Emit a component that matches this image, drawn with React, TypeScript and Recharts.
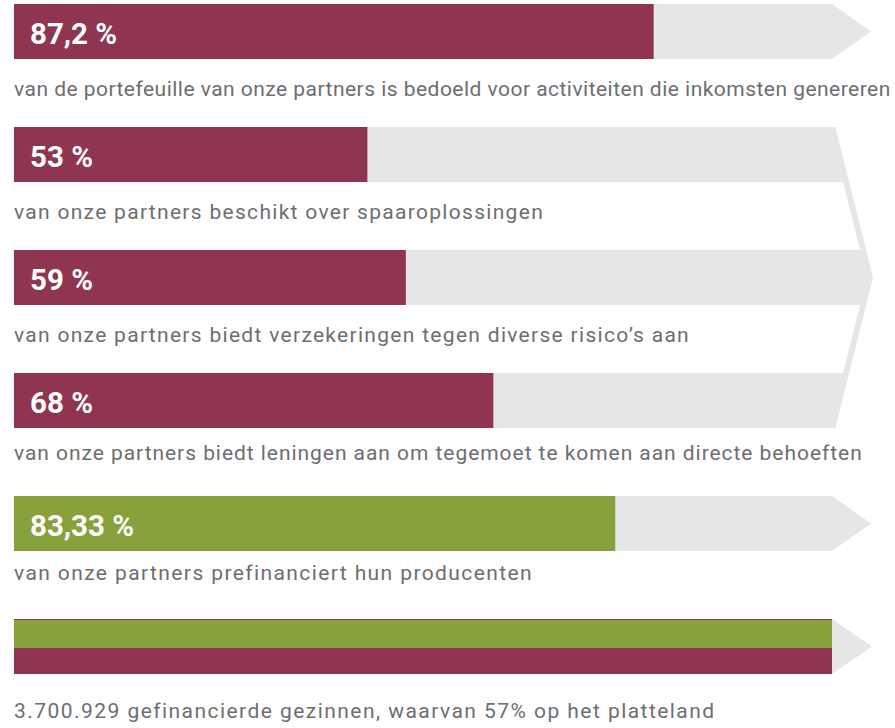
import React from 'react';
import { BarChart, Bar, XAxis, YAxis, LabelList } from 'recharts';

// rows, top to bottom
const categories = ['portefeuille', 'spaaroplossingen', 'verzekeringen', 'leningen', 'prefinanciering', 'gezinnen'];
const valueLabels = ['87,2 %', '53 %', '59 %', '68 %', '83,33 %', ''];
const captions = [
  'van de portefeuille van onze partners is bedoeld voor activiteiten die inkomsten genereren',
  'van onze partners beschikt over spaaroplossingen',
  'van onze partners biedt verzekeringen tegen diverse risico’s aan',
  'van onze partners biedt leningen aan om tegemoet te komen aan directe behoeften',
  'van onze partners prefinanciert hun producenten',
  '3.700.929 gefinancierde gezinnen, waarvan 57% op het platteland',
];
// bar lengths as drawn, in % of the grey track
const barLengths = [78.2, 43.2, 47.9, 58.6, 73.5, 100];
// upper (green) part of the last bar, in % of its height, as drawn
const ruralPart = 52;

const data = categories.map((name, i) => ({
  name,
  value: barLengths[i],
  label: valueLabels[i],
  caption: captions[i],
}));

const W = 895;
const H = 728;
const MARGIN = { top: -30, right: 63, bottom: 20, left: 14 };
const STEP = (H - MARGIN.top - MARGIN.bottom) / categories.length;
const BAR = 55;

const MAROON = '#90354f';
const GREEN = '#87a13c';
const GREY = '#e5e6e8';
const TEXT = '#6d6e71';
const BAR_COLORS = [MAROON, MAROON, MAROON, MAROON, GREEN, MAROON];
const CAPTION_DY = [36.5, 36.5, 37, 31.5, 29, 44];
const CAPTION_SPACING = [0.47, 1.3, 1.3, 0.95, 1.4, 1.45];
const TIP = 39;
const SLOPE = 0.25;
const STRIP = 6;

const renderTrack = (props: any) => {
  const { x, y, width, height, index } = props;
  const right = x + width;
  const mid = y + height / 2;
  if (index === 0 || index === 4) {
    const pts = `${x},${y} ${right},${y} ${right + TIP},${mid} ${right},${y + height} ${x},${y + height}`;
    return <polygon points={pts} fill={GREY} />;
  }
  if (index === 5) {
    const pts = `${right},${y} ${right + TIP + 1},${mid} ${right},${y + height}`;
    return <polygon points={pts} fill={GREY} />;
  }
  if (index === 2) {
    // one chevron behind rows 2-4
    const top = y - STEP;
    const bottom = y + height + STEP;
    const tipX = right + 41;
    const edge = (yy: number) => tipX - SLOPE * Math.abs(yy - mid);
    const outer = `${x},${top} ${edge(top)},${top} ${tipX},${mid} ${edge(bottom)},${bottom} ${x},${bottom}`;
    const gap = (g0: number, g1: number) =>
      `${x - 1},${g0} ${edge(g0) - STRIP},${g0} ${edge(g1) - STRIP},${g1} ${x - 1},${g1}`;
    return (
      <g>
        <polygon points={outer} fill={GREY} />
        <polygon points={gap(top + height, y)} fill="#fff" />
        <polygon points={gap(y + height, bottom - height)} fill="#fff" />
      </g>
    );
  }
  return <g />;
};

const renderValueBar = (props: any) => {
  const { x, y, width, height, index } = props;
  if (index === 5) {
    const gH = ((height - 1) * ruralPart) / 100;
    return (
      <g>
        <rect x={x} y={y} width={width} height={height} fill={MAROON} />
        <rect x={x} y={y + 1} width={width} height={gH} fill={GREEN} />
      </g>
    );
  }
  return <rect x={x} y={y} width={width} height={height} fill={BAR_COLORS[index]} />;
};

const renderValueLabel = (props: any) => {
  const { x, y, height, value } = props;
  if (!value) return null;
  return (
    <text
      x={x + 16}
      y={y + height / 2 + 12}
      fill="#fff"
      fontFamily="Roboto, sans-serif"
      fontWeight={700}
      fontSize={29.5}
    >
      {value}
    </text>
  );
};

const renderCaption = (props: any) => {
  const { x, y, height, value, index } = props;
  return (
    <text
      x={x}
      y={y + height + CAPTION_DY[index]}
      fill={TEXT}
      fontFamily="Roboto, sans-serif"
      fontSize={21}
      letterSpacing={CAPTION_SPACING[index]}
    >
      {value}
    </text>
  );
};

export default function App() {
  return (
    <div style={{ position: 'absolute', left: 0, top: 0, width: W, height: H, overflow: 'hidden', background: '#fff' }}>
      <BarChart width={W} height={H} data={data} layout="vertical" margin={MARGIN}>
        <XAxis type="number" domain={[0, 100]} hide />
        <YAxis type="category" dataKey="name" hide />
        <Bar
          dataKey="value"
          barSize={BAR}
          background={renderTrack}
          shape={renderValueBar}
          isAnimationActive={false}
        >
          <LabelList dataKey="label" content={renderValueLabel} />
          <LabelList dataKey="caption" content={renderCaption} />
        </Bar>
      </BarChart>
    </div>
  );
}
